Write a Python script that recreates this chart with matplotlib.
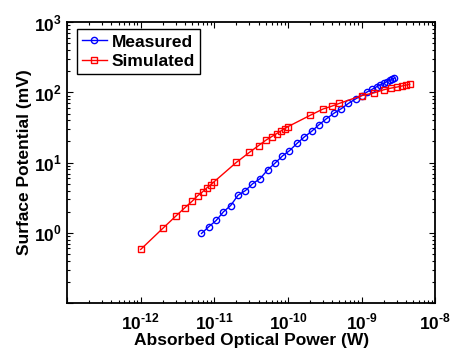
import matplotlib
matplotlib.use('Agg')
from matplotlib import pyplot
from matplotlib.ticker import LogLocator, NullFormatter

pyplot.rcParams['font.family'] = ['Liberation Sans', 'DejaVu Sans']
pyplot.rcParams['font.weight'] = 'bold'
pyplot.rcParams['mathtext.fontset'] = 'custom'
pyplot.rcParams['mathtext.rm'] = 'Liberation Sans:bold'
pyplot.rcParams['mathtext.bf'] = 'Liberation Sans:bold'

# measured (blue circles)
meas_power = [6.7e-12, 8.4e-12, 1.06e-11, 1.33e-11, 1.67e-11, 2.1e-11, 2.65e-11,
              3.3e-11, 4.2e-11, 5.3e-11, 6.65e-11, 8.4e-11, 1.05e-10, 1.33e-10,
              1.67e-10, 2.1e-10, 2.65e-10, 3.3e-10, 4.2e-10, 5.3e-10, 6.65e-10,
              8.4e-10, 1.0e-9, 1.2e-9, 1.4e-9, 1.6e-9, 1.8e-9, 2.0e-9, 2.2e-9,
              2.4e-9, 2.6e-9, 2.8e-9]
meas_volt = [0.98, 1.22, 1.50, 1.99, 2.45, 3.43, 4.0, 4.98, 5.93, 7.87, 9.78,
             12.4, 14.8, 18.8, 23.2, 27.9, 34.7, 41.8, 50.3, 58.6, 69.8, 81.3,
             90, 102, 111, 120, 128, 135, 142, 148, 154, 160]

# simulated (red squares)
sim_power = [1e-12, 2e-12, 3e-12, 4e-12, 5e-12, 6e-12, 7e-12, 8e-12, 9e-12,
             1e-11, 2e-11, 3e-11, 4e-11, 5e-11, 6e-11, 7e-11, 8e-11, 9e-11,
             1e-10, 2e-10, 3e-10, 4e-10, 5e-10, 1e-9, 1.5e-9, 2e-9, 2.5e-9,
             3e-9, 3.5e-9, 4e-9, 4.5e-9]
sim_volt = [0.58, 1.16, 1.73, 2.29, 2.82, 3.4, 3.87, 4.41, 4.87, 5.37, 10.1,
            14.0, 17.5, 20.8, 23.4, 25.8, 28.2, 30.4, 32.5, 47.1, 58, 64, 69.8,
            89.8, 98.9, 109, 115, 119, 123, 127, 130]

fig = pyplot.figure(figsize=(4.5, 3.52), dpi=100)
ax = fig.add_axes([0.149, 0.139, 0.818, 0.798])

ax.loglog(meas_power, meas_volt, '-o', color='blue', mfc='none', ms=4.5,
          mew=1.0, lw=1.0, label='Measured')
ax.loglog(sim_power, sim_volt, '-s', color='red', mfc='none', ms=4.5,
          mew=1.0, lw=1.0, label='Simulated')

ax.set_xlim(1e-13, 1e-8)
ax.set_ylim(1e-1, 1e3)

xt = [1e-13, 1e-12, 1e-11, 1e-10, 1e-9, 1e-8]
ax.set_xticks(xt)
ax.set_xticklabels([''] + [r'$10^{\text{-}%d}$' % e for e in range(12, 7, -1)])
yt = [1e-1, 1e0, 1e1, 1e2, 1e3]
ax.set_yticks(yt)
ax.set_yticklabels([''] + [r'$10^{%d}$' % e for e in range(0, 4)])
ax.xaxis.set_minor_locator(LogLocator(base=10, subs=range(2, 10), numticks=20))
ax.yaxis.set_minor_locator(LogLocator(base=10, subs=range(2, 10), numticks=20))
ax.xaxis.set_minor_formatter(NullFormatter())
ax.yaxis.set_minor_formatter(NullFormatter())

ax.tick_params(which='both', direction='in', top=True, right=True,
               labelsize=12.5, width=0.8)
ax.tick_params(which='major', length=4)
ax.tick_params(which='minor', length=2)
ax.tick_params(axis='x', which='major', pad=6)
for s in ax.spines.values():
    s.set_linewidth(1.3)

ax.set_xlabel('Absorbed Optical Power (W)', fontsize=12.5, fontweight='bold', labelpad=1)
ax.set_ylabel('Surface Potential (mV)', fontsize=12.5, fontweight='bold', labelpad=2)

leg = ax.legend(loc='upper left', fontsize=12.5, fancybox=False, framealpha=1,
                edgecolor='black', handlelength=1.4, borderpad=0.3,
                labelspacing=0.25, handletextpad=0.3, borderaxespad=0,
                bbox_to_anchor=(0.027, 0.975))
leg.get_frame().set_linewidth(1.0)

pyplot.savefig('out.png', dpi=100)
